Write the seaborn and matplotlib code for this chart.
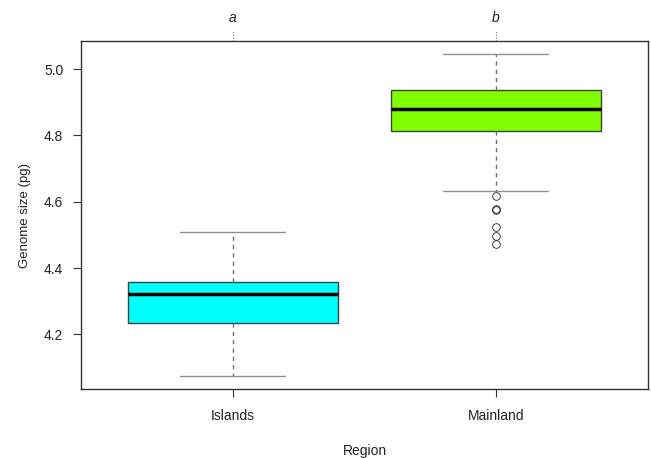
import numpy as np
import pandas as pd
import matplotlib
matplotlib.use("Agg")
import matplotlib.pyplot as plt
import matplotlib.transforms as mtransforms
import seaborn as sns

# Groups and colours
REGIONS = ["Islands", "Mainland"]
GROUP_LETTERS = ["a", "b"]
BOX_COLORS = ["#00FFFF", "#7FFF00"]

# Genome size observations (pg), read so the box summaries match the figure
islands_pg = [4.074, 4.233, 4.322, 4.358, 4.510]
mainland_pg = [
    4.472, 4.497, 4.525, 4.576, 4.579, 4.617, 4.633,
    4.814, 4.822, 4.831, 4.840, 4.850, 4.861, 4.870,
    4.879, 4.886, 4.893, 4.902, 4.911, 4.920, 4.929,
    4.937, 4.950, 4.966, 4.981, 4.997, 5.012, 5.030,
    5.046,
]

df = pd.DataFrame({
    "Region": ["Islands"] * len(islands_pg) + ["Mainland"] * len(mainland_pg),
    "Genome": islands_pg + mainland_pg,
})

sns.set_style("white")
plt.rcParams["font.family"] = ["Liberation Sans", "DejaVu Sans"]

fig = plt.figure(figsize=(6.51, 4.58), dpi=100)
ax = fig.add_axes([0.124, 0.150, 0.872, 0.7605])

edge = "#404040"
sns.boxplot(
    data=df, x="Region", y="Genome", hue="Region", order=REGIONS,
    palette=BOX_COLORS, saturation=1, width=0.8, legend=False, ax=ax,
    linewidth=1.0, linecolor=edge,
    whiskerprops=dict(linestyle=(0, (3, 3)), color="#707070", linewidth=1.0),
    capprops=dict(color="#909090", linewidth=1.0),
    medianprops=dict(color="black", linewidth=2.5),
    flierprops=dict(marker="o", markerfacecolor="none", markeredgecolor="#222222",
                    markersize=5.5, markeredgewidth=0.6),
)

ax.set_xlim(-0.578, 1.58)
ax.set_ylim(4.034, 5.085)
ax.set_yticks([4.2, 4.4, 4.6, 4.8, 5.0])
ax.set_yticklabels(["4.2", "4.4", "4.6", "4.8", "5.0"])
ax.set_xticks(range(len(REGIONS)))
ax.set_xticklabels(REGIONS)

for s in ax.spines.values():
    s.set_visible(True)
    s.set_color("#333333")
    s.set_linewidth(1.0)

ax.tick_params(axis="both", which="major", direction="out", length=6,
               width=0.8, color="#333333", labelsize=10, labelcolor="#222222",
               left=True, bottom=True)
ax.tick_params(axis="y", pad=6.5)
ax.tick_params(axis="x", pad=8)
ax.set_xlabel("Region", fontsize=10, labelpad=15, color="#222222")
ax.set_ylabel("Genome size (pg)", fontsize=9.5, labelpad=9, color="#222222")

# top letters with dotted ticks
trans = mtransforms.blended_transform_factory(ax.transData, ax.transAxes)
for i, letter in enumerate(GROUP_LETTERS):
    ax.plot([i, i], [1.0, 1.03], transform=trans, color="#808080",
            linestyle=(0, (1, 1.5)), linewidth=0.8, clip_on=False)
    ax.text(i, 1.067, letter, transform=trans, ha="center", va="center",
            fontsize=10, fontstyle="italic", color="#222222")

fig.savefig("out.png", dpi=100, facecolor="white")
